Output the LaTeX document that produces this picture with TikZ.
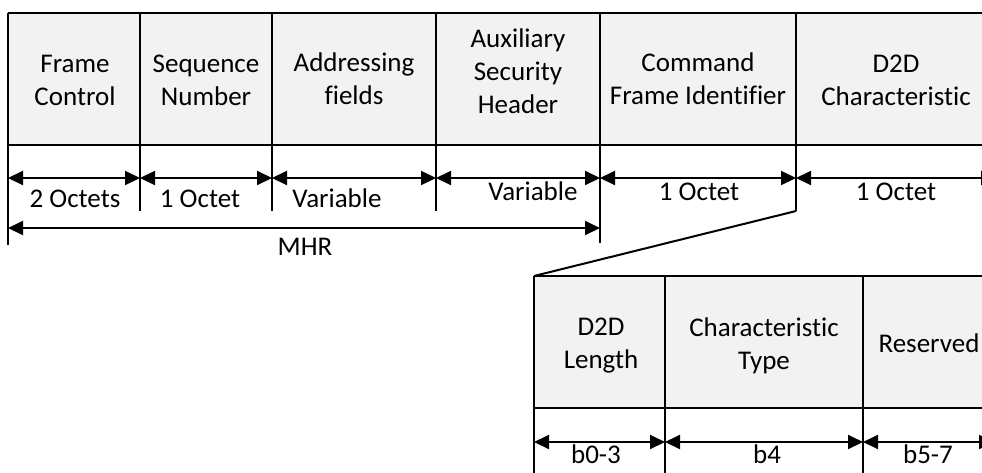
\documentclass[tikz,border=0pt]{standalone}
\usepackage{fontspec}
\setmainfont{Carlito}[Ligatures={NoCommon,NoContextual},Contextuals=NoAlternate]
\usetikzlibrary{arrows.meta}
\definecolor{hdrgray}{HTML}{F2F2F2}
\begin{document}
\begin{tikzpicture}[x=1pt,y=-1pt,
  ln/.style={line width=2pt},
  dim/.style={line width=2pt,{Triangle[length=15pt,width=14pt]}-{Triangle[length=15pt,width=14pt]}},
  hdr/.style={align=center,font=\fontsize{27}{33}\selectfont,inner sep=0pt},
  lbl/.style={anchor=base,font=\fontsize{27}{33}\selectfont,inner sep=0pt}]
\useasboundingbox (0,0) rectangle (982,472);
\clip (0,0) rectangle (982,472);
% ---------- upper frame ----------
\fill[hdrgray] (8,13) rectangle (996,145);
\draw[ln] (8,13) -- (1000,13);
\draw[ln] (8,145) -- (1000,145);
\draw[ln] (8,13) -- (8,245);
\draw[ln] (140,13) -- (140,211);
\draw[ln] (272,13) -- (272,211);
\draw[ln] (436,13) -- (436,211);
\draw[ln] (600,13) -- (600,243);
\draw[ln] (796,13) -- (796,211);
\draw[ln] (996,13) -- (996,211);
\node[hdr] (fc)  at (75,80)  {Frame\\Control};
\node[hdr] (sn)  at (206,80) {Sequence\\Number};
\node[hdr] (af)  at (354,79) {Addressing\\fields};
\node[hdr] (ash) at (518,71) {Auxiliary\\Security\\Header};
\node[hdr] (cfi) at (698,79) {Command\\Frame Identifier};
\node[hdr] (d2d) at (896,80) {D2D\\Characteristic};
% dimension coordinates
\coordinate (u0) at (8,178);
\coordinate (u1) at (140,178);
\coordinate (u2) at (272,178);
\coordinate (u3) at (436,178);
\coordinate (u4) at (600,178);
\coordinate (u5) at (796,178);
\coordinate (u6) at (996,178);
\draw[dim] (u0) -- (u1);
\draw[dim] (u1) -- (u2);
\draw[dim] (u2) -- (u3);
\draw[dim] (u3) -- (u4);
\draw[dim] (u4) -- (u5);
\draw[dim] (u5) -- (u6);
\node[lbl] (l1) at (75,207)  {2 Octets};
\node[lbl] (l2) at (200,207) {1 Octet};
\node[lbl] (l3) at (337,207) {Variable};
\node[lbl] (l4) at (533,200) {Variable};
\node[lbl] (l5) at (699,200) {1 Octet};
\node[lbl] (l6) at (896,200) {1 Octet};
\coordinate (m0) at (8,228);
\coordinate (m1) at (600,228);
\draw[dim] (m0) -- (m1);
\node[lbl] (mhr) at (305,255) {MHR};
% zoom line
\coordinate (z0) at (796,211);
\coordinate (z1) at (534,276);
\draw[ln] (z0) -- (z1);
% ---------- lower frame ----------
\fill[hdrgray] (534,276) rectangle (994,408);
\draw[ln] (534,276) -- (1000,276);
\draw[ln] (534,408) -- (1000,408);
\draw[ln] (534,276) -- (534,480);
\draw[ln] (665,276) -- (665,480);
\draw[ln] (863,276) -- (863,480);
\draw[ln] (994,276) -- (994,480);
\node[hdr] (dl) at (601,346) {D2D\\Length};
\node[hdr] (ct) at (764,346) {Characteristic\\Type};
\node[hdr] (rs) at (929,343) {Reserved};
\coordinate (b0) at (534,442);
\coordinate (b1) at (665,442);
\coordinate (b2) at (863,442);
\coordinate (b3) at (994,442);
\draw[dim] (b0) -- (b1);
\draw[dim] (b1) -- (b2);
\draw[dim] (b2) -- (b3);
\node[lbl] (bl1) at (596,463) {b0-3};
\node[lbl] (bl2) at (767,463) {b4};
\node[lbl] (bl3) at (928,463) {b5-7};
\end{tikzpicture}
\end{document}
